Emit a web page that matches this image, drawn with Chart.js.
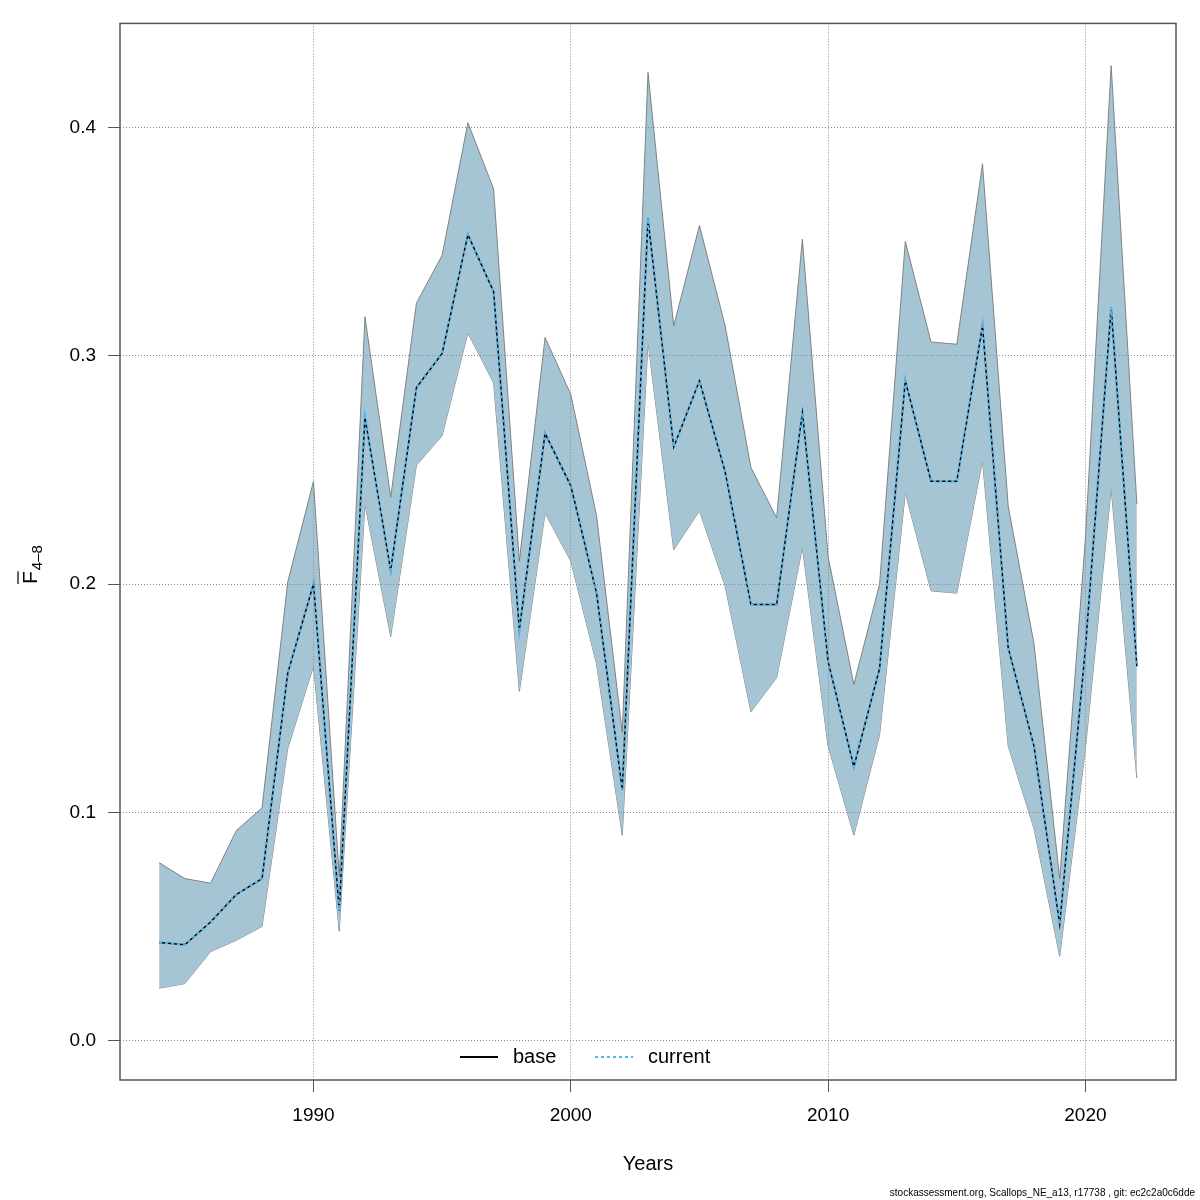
<!DOCTYPE html>
<html>
<head>
<meta charset="utf-8">
<script src="https://cdn.jsdelivr.net/npm/chart.js@4.4.1/dist/chart.umd.min.js"></script>
<style>
  body { margin: 0; background: #fff; }
  #wrap { width: 1200px; height: 1200px; }
</style>
</head>
<body>
<div id="wrap"><canvas id="fbarChart" width="1200" height="1200"></canvas></div>
<script>
// F-bar 4-8, base vs current, with band
var years = [1984, 1985, 1986, 1987, 1988, 1989, 1990, 1991, 1992, 1993,
  1994, 1995, 1996, 1997, 1998, 1999, 2000, 2001, 2002, 2003,
  2004, 2005, 2006, 2007, 2008, 2009, 2010, 2011, 2012, 2013,
  2014, 2015, 2016, 2017, 2018, 2019, 2020, 2021, 2022];

var fbarBase = [0.043, 0.042, 0.052, 0.064, 0.071, 0.161, 0.200, 0.057, 0.273, 0.206,
  0.286, 0.301, 0.353, 0.328, 0.180, 0.266, 0.243, 0.196, 0.110, 0.360,
  0.260, 0.289, 0.249, 0.191, 0.191, 0.275, 0.166, 0.120, 0.163, 0.289,
  0.245, 0.245, 0.313, 0.172, 0.129, 0.051, 0.172, 0.321, 0.164];

var fbarCurrent = fbarBase.slice();

var fbarHigh = [0.078, 0.071, 0.069, 0.092, 0.102, 0.201, 0.245, 0.072, 0.317, 0.238,
  0.323, 0.344, 0.402, 0.373, 0.210, 0.308, 0.283, 0.230, 0.135, 0.424,
  0.313, 0.357, 0.313, 0.251, 0.229, 0.351, 0.212, 0.156, 0.200, 0.350,
  0.306, 0.305, 0.384, 0.234, 0.174, 0.071, 0.220, 0.427, 0.235];

var fbarLow = [0.023, 0.025, 0.039, 0.044, 0.050, 0.128, 0.164, 0.048, 0.235, 0.177,
  0.252, 0.265, 0.310, 0.288, 0.153, 0.231, 0.210, 0.165, 0.090, 0.306,
  0.215, 0.232, 0.199, 0.144, 0.159, 0.216, 0.129, 0.090, 0.134, 0.240,
  0.197, 0.196, 0.254, 0.129, 0.093, 0.037, 0.128, 0.242, 0.115];

var xTicks = [1990, 2000, 2010, 2020];
var yTicks = [0.0, 0.1, 0.2, 0.3, 0.4];

function toPoints(arr) {
  return years.map(function (yr, i) { return { x: yr, y: arr[i] }; });
}

var bandColor = '#a5c4d4';
var bandEdge = 'rgba(120,120,120,0.9)';
var currentColor = '#56b4e9';
var fontFam = '"Liberation Sans", Arial, sans-serif';

// box, legend, y title, footer
var extras = {
  id: 'extras',
  afterDraw: function (chart) {
    var ctx = chart.ctx;
    var a = chart.chartArea;
    ctx.save();
    ctx.strokeStyle = '#555';
    ctx.lineWidth = 1.5;
    ctx.strokeRect(a.left, a.top, a.right - a.left, a.bottom - a.top);

    // legend
    var ly = 1057;
    ctx.lineWidth = 2;
    ctx.strokeStyle = '#000';
    ctx.beginPath(); ctx.moveTo(460, ly); ctx.lineTo(498, ly); ctx.stroke();
    ctx.strokeStyle = currentColor;
    ctx.setLineDash([3, 3]);
    ctx.beginPath(); ctx.moveTo(595, ly); ctx.lineTo(633, ly); ctx.stroke();
    ctx.setLineDash([]);
    ctx.fillStyle = '#000';
    ctx.font = '20px ' + fontFam;
    ctx.textBaseline = 'middle';
    ctx.textAlign = 'left';
    ctx.fillText('base', 513, ly);
    ctx.fillText('current', 648, ly);

    // y title: F with bar, subscript 4-8
    ctx.translate(31, 570);
    ctx.rotate(-Math.PI / 2);
    ctx.font = '21px ' + fontFam;
    ctx.textBaseline = 'alphabetic';
    var fw = ctx.measureText('F').width;
    ctx.fillText('F', -14, 6);
    ctx.lineWidth = 1.2;
    ctx.strokeStyle = '#000';
    ctx.beginPath(); ctx.moveTo(-14, -13); ctx.lineTo(-14 + fw, -13); ctx.stroke();
    ctx.font = '15px ' + fontFam;
    ctx.fillText('4\u20138', -14 + fw + 1, 11);
    ctx.restore();

    ctx.save();
    ctx.fillStyle = '#000';
    ctx.font = '10px ' + fontFam;
    ctx.textAlign = 'right';
    ctx.textBaseline = 'bottom';
    ctx.fillText('stockassessment.org, Scallops_NE_a13, r17738 , git: ec2c2a0c6dde', 1195, 1198);
    ctx.restore();
  }
};

var fbarChart = new Chart(document.getElementById('fbarChart'), {
  type: 'line',
  data: {
    datasets: [{
      label: 'low',
      data: toPoints(fbarLow),
      borderColor: bandEdge,
      borderWidth: 1,
      pointRadius: 0,
      fill: false,
      tension: 0,
      order: 4,
    }, {
      label: 'high',
      data: toPoints(fbarHigh),
      borderColor: bandEdge,
      borderWidth: 1,
      backgroundColor: bandColor,
      pointRadius: 0,
      fill: 0,
      tension: 0,
      order: 3,
    }, {
      label: 'base',
      data: toPoints(fbarBase),
      borderColor: '#000',
      borderWidth: 1.5,
      pointRadius: 0,
      fill: false,
      tension: 0,
      order: 2,
    }, {
      label: 'current',
      data: toPoints(fbarCurrent),
      borderColor: currentColor,
      borderWidth: 2.5,
      borderDash: [3, 3],
      pointRadius: 0,
      fill: false,
      tension: 0,
      order: 1,
    }]
  },
  options: {
    responsive: false,
    animation: false,
    devicePixelRatio: 1,
    layout: {
      padding: { top: 19, right: 24, left: 0, bottom: 0 }
    },
    plugins: {
      legend: { display: false },
      tooltip: { enabled: false },
    },
    events: [],
    scales: {
      x: {
        type: 'linear',
        min: 1982.48,
        max: 2023.52,
        afterBuildTicks: function (s) { s.ticks = xTicks.map(function (v) { return { value: v }; }); },
        afterFit: function (s) { s.height = 120; },
        grid: {
          color: '#888',
          lineWidth: 1,
          tickColor: '#555',
          tickLength: 12,
          z: 1,
        },
        border: { display: false, dash: [1, 2] },
        ticks: {
          color: '#000',
          font: { family: fontFam, size: 19 },
          padding: 12,
          maxRotation: 0,
          callback: function (v) { return String(v); },
        },
        title: {
          display: true,
          text: 'Years',
          color: '#000',
          font: { family: fontFam, size: 20 },
          padding: { top: 0, bottom: 24 },
        }
      },
      y: {
        type: 'linear',
        min: -0.0172,
        max: 0.4455,
        afterBuildTicks: function (s) { s.ticks = yTicks.map(function (v) { return { value: v }; }); },
        afterFit: function (s) { s.width = 120; },
        grid: {
          color: '#888',
          lineWidth: 1,
          tickColor: '#555',
          tickLength: 12,
          z: 1,
        },
        border: { display: false, dash: [1, 2] },
        ticks: {
          color: '#000',
          font: { family: fontFam, size: 19 },
          padding: 12,
          callback: function (v) { return v.toFixed(1); },
        }
      }
    }
  },
  plugins: [extras]
});
</script>
</body>
</html>
